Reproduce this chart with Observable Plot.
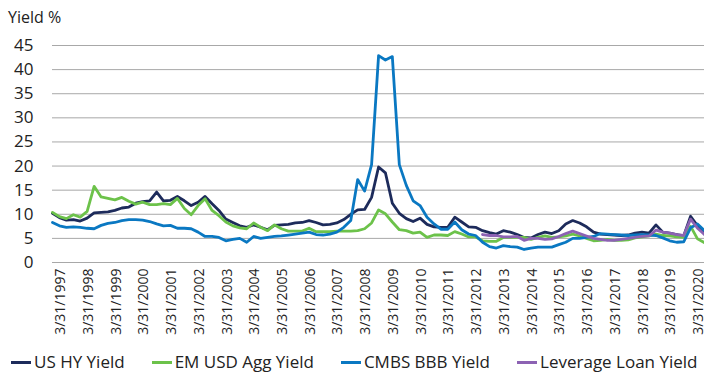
<!DOCTYPE html>
<html><head><meta charset="utf-8">
<script src="https://cdn.jsdelivr.net/npm/d3@7"></script>
<script src="https://cdn.jsdelivr.net/npm/@observablehq/plot@0.6"></script>
<style>
body{margin:0;background:#fff;font-family:"Open Sans",sans-serif;color:#222;width:704px;height:377px;overflow:hidden}
#title{height:30px;box-sizing:border-box;padding-top:9px;padding-left:8px;font-size:16px;line-height:16px}
#chart svg{display:block}
#chart g[aria-label^="y-axis"] text{font-size:17px}
#legend{display:flex;gap:27px;padding-left:11px;height:35px;box-sizing:border-box;padding-top:8px}
.item{display:flex;align-items:center;height:24px;line-height:24px;font-size:17px;white-space:nowrap}
.sw{width:20px;height:3px;margin-right:3px}
</style></head>
<body>
<div id="title">Yield %</div>
<div id="chart"></div>
<div id="legend"></div>
<script>
// Quarter-end observations, first = 3/31/1997
const firstQuarter = "3/31/1997";
const usHY = [10.2,9.3,8.8,8.9,8.6,9.2,10.3,10.4,10.5,10.8,11.3,11.5,12.3,12.6,12.8,14.6,12.8,12.9,13.7,12.8,11.8,12.5,13.7,12.2,10.8,9.0,8.3,7.6,7.3,7.8,7.3,6.8,7.7,7.8,7.9,8.2,8.3,8.7,8.3,7.8,7.9,8.2,8.9,10.0,10.9,11.0,13.5,19.8,18.6,12.3,10.2,9.1,8.5,9.2,7.9,7.4,7.3,7.3,9.4,8.4,7.4,7.3,6.6,6.2,5.9,6.6,6.3,5.8,5.2,5.1,5.8,6.3,6.0,6.6,8.0,8.7,8.2,7.4,6.3,5.9,5.8,5.7,5.6,5.7,6.1,6.3,6.1,7.8,6.3,6.1,5.8,5.5,9.6,7.6,5.9];
const emUSDAgg = [10.4,9.5,9.1,9.9,9.4,10.6,15.8,13.6,13.3,13.0,13.5,12.7,12.1,12.5,12.0,12.0,12.2,12.0,13.3,11.2,9.9,11.8,13.2,10.8,9.7,8.4,7.6,7.2,7.0,8.2,7.3,6.6,7.8,7.0,6.5,6.5,6.5,7.1,6.4,6.4,6.4,6.5,6.5,6.5,6.6,7.0,8.2,10.9,10.1,8.4,6.8,6.6,6.1,6.3,5.2,5.7,5.7,5.6,6.4,5.9,5.3,5.3,4.5,4.4,4.4,5.2,5.2,5.2,5.2,4.8,5.2,5.5,5.2,5.3,5.5,5.9,5.5,5.0,4.5,4.6,4.8,4.6,4.6,4.7,5.1,5.3,5.5,5.9,5.6,5.5,5.3,5.2,7.5,4.9,4.1];
const cmbsBBB = [8.3,7.6,7.3,7.4,7.3,7.1,7.0,7.7,8.1,8.3,8.7,8.9,8.9,8.8,8.5,8.0,7.6,7.7,7.1,7.1,7.0,6.3,5.4,5.4,5.2,4.5,4.8,5.0,4.2,5.4,5.0,5.2,5.4,5.5,5.7,5.9,6.1,6.3,5.8,5.7,5.9,6.3,7.3,8.7,17.2,14.8,20.3,42.9,42.0,42.7,20.3,16.0,12.8,11.8,9.4,8.0,6.9,6.9,8.4,6.8,5.9,5.6,4.2,3.3,3.0,3.5,3.3,3.2,2.7,3.0,3.2,3.2,3.2,3.7,4.2,5.0,5.0,5.2,5.4,6.0,5.9,5.8,5.7,5.6,5.7,5.8,5.7,5.6,5.1,4.5,4.2,4.3,7.2,8.0,6.6];
// Leverage loan series starts later
const levLoanFirstQuarter = "9/30/2012";
const levLoan = [5.8,5.6,5.6,5.3,5.3,5.4,4.6,5.0,5.0,4.8,4.9,5.4,6.0,6.5,6.0,5.5,5.0,4.8,4.6,4.6,4.8,5.0,5.2,5.4,5.5,6.7,6.3,6.1,5.8,5.6,9.0,7.1,5.8];

const seriesNames = ["US HY Yield","EM USD Agg Yield","CMBS BBB Yield","Leverage Loan Yield"];
const seriesColors = ["#1d2b5b","#6cc24a","#0a78c2","#8c62b3"];
const xTickLabels = ["3/31/1997","3/31/1998","3/31/1999","3/31/2000","3/31/2001","3/31/2002","3/31/2003","3/31/2004","3/31/2005","3/31/2006","3/31/2007","3/31/2008","3/31/2009","3/31/2010","3/31/2011","3/31/2012","3/31/2013","3/31/2014","3/31/2015","3/31/2016","3/31/2017","3/31/2018","3/31/2019","3/31/2020"];
const yTicks = [0,5,10,15,20,25,30,35,40,45];
const yTitle = "Yield %";

const parse = d3.utcParse("%m/%d/%Y");
function quarterEnd(start, k) {
  const s = parse(start);
  return new Date(Date.UTC(s.getUTCFullYear(), s.getUTCMonth() + 1 + 3 * k, 0));
}
function toRows(values, start, name) {
  return values.map((v, k) => ({date: quarterEnd(start, k), value: v, series: name}));
}
const allSeries = [
  toRows(usHY, firstQuarter, seriesNames[0]),
  toRows(emUSDAgg, firstQuarter, seriesNames[1]),
  toRows(cmbsBBB, firstQuarter, seriesNames[2]),
  toRows(levLoan, levLoanFirstQuarter, seriesNames[3])
];
const lastDate = allSeries[0][allSeries[0].length - 1].date;

document.getElementById("title").textContent = yTitle;

const chart = Plot.plot({
  width: 704,
  height: 312,
  marginLeft: 52,
  marginRight: 0,
  marginTop: 15,
  marginBottom: 80,
  style: {fontFamily: "'Open Sans', sans-serif", fontSize: "14px", color: "#222", background: "#fff", overflow: "visible"},
  x: {
    type: "utc",
    domain: [parse(firstQuarter), lastDate],
    ticks: xTickLabels.map(parse),
    tickFormat: d3.utcFormat("%-m/%-d/%Y"),
    tickRotate: -90,
    tickSize: 0,
    tickPadding: 6,
    label: null
  },
  y: {domain: [0, 45], ticks: yTicks, tickSize: 0, tickPadding: 19, label: null},
  marks: [
    Plot.ruleY(yTicks, {stroke: "#a8a8a8", strokeWidth: 1}),
    ...allSeries.map((rows, i) => Plot.line(rows, {x: "date", y: "value", stroke: seriesColors[i], strokeWidth: 2.8, strokeLinejoin: "round", strokeLinecap: "round"}))
  ]
});
// nudge rotated x tick labels so they sit like the reference
d3.select(chart).selectAll('g[aria-label^="x-axis"] text').attr("dy", "0.58em");
document.getElementById("chart").appendChild(chart);

const legend = document.getElementById("legend");
seriesNames.forEach((name, i) => {
  const item = document.createElement("div");
  item.className = "item";
  const sw = document.createElement("span");
  sw.className = "sw";
  sw.style.background = seriesColors[i];
  const t = document.createElement("span");
  t.textContent = name;
  item.appendChild(sw);
  item.appendChild(t);
  legend.appendChild(item);
});
</script>
</body></html>
